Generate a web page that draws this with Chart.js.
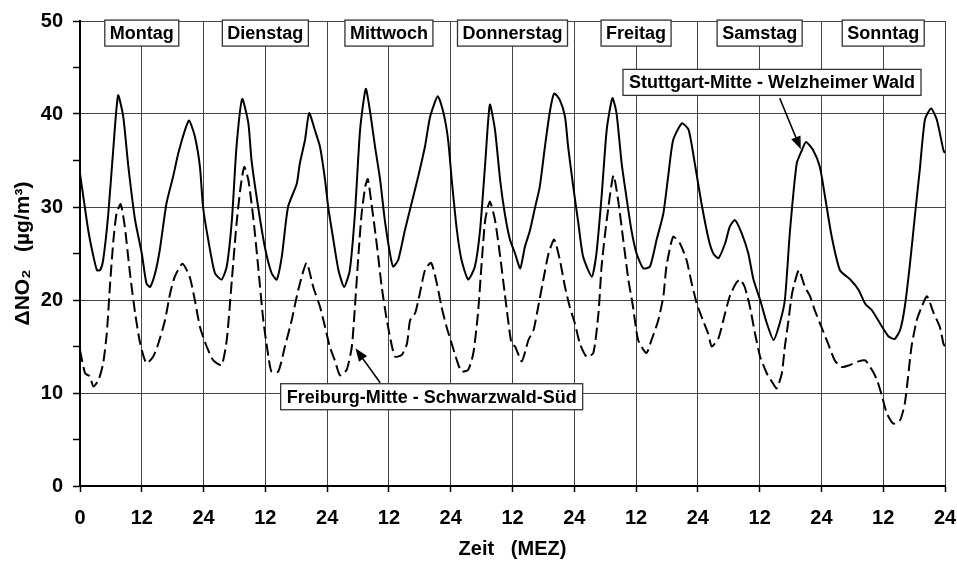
<!DOCTYPE html>
<html>
<head>
<meta charset="utf-8">
<script src="https://cdn.jsdelivr.net/npm/chart.js@4.4.1/dist/chart.umd.min.js"></script>
<style>
  html, body { margin: 0; padding: 0; background: #fff; }
  canvas { display: block; }
</style>
</head>
<body>
<canvas id="chart" width="957" height="561"></canvas>
<script>
// hours since Monday 0:00 MEZ, NO2 differences in µg/m³
const stuttgartTime = [0, 1.6, 2.6, 3.3, 3.9, 4.5, 5.5, 6.5, 7.4, 8.4, 9.4, 10.7, 12.0, 12.9, 13.6, 14.6, 15.5, 16.8, 18.1, 19.1, 20.4, 21.2, 22.3, 23.3, 23.9,
    24.9, 26.2, 27.5, 28.5, 29.5, 30.4, 31.5, 32.7, 33.3, 34.6, 35.9, 37.2, 38.2, 39.2, 40.4, 42.1, 42.7, 43.7, 44.5, 45.6, 46.6, 47.6,
    48.2, 49.2, 50.2, 51.3, 52.4, 53.4, 54.4, 55.5, 56.3, 57.3, 58.3, 59.2, 60.2, 60.8, 61.8, 63.1, 64.4, 65.7, 67.0, 68.0, 69.5, 70.6, 71.5,
    72.2, 73.2, 74.1, 75.4, 76.7, 77.7, 78.7, 79.6, 80.6, 81.6, 82.5, 83.5, 84.5, 85.5, 86.4, 87.4, 88.4, 89.3, 90.3, 91.3, 92.1, 93.2, 94.2, 94.8, 95.8,
    96.8, 97.7, 99.4, 100.3, 101.3, 102.3, 103.4, 104.2, 105.2, 106.2, 107.1, 108.1, 109.4, 110.7, 112.0, 113.3, 114.3, 115.2, 116.9, 118.2, 119.4,
    120.7, 122.1, 123.0, 124.0, 125.3, 126.2, 127.2, 128.5, 129.8, 130.8, 132.1, 133.4, 134.7, 135.9, 136.9, 137.9, 139.2, 140.2, 141.0, 142.4, 143.7,
    144.7, 146.0, 147.6, 149.6, 151.2, 152.5, 153.8, 155.8, 157.0, 158.2, 159.3, 160.2, 161.2, 162.2, 163.1, 164.1, 165.3, 166.4, 167.7, 168];
const stuttgartNO2 = [33.6, 27.5, 24.7, 23.2, 23.2, 24.3, 29.3, 36.5, 42.0, 39.7, 34.3, 28.6, 25.0, 21.8, 21.4, 22.9, 25.4, 30.4, 33.3, 35.8, 38.3, 39.3, 37.6, 34.3, 30.0,
    26.5, 22.9, 22.2, 23.6, 28.6, 36.5, 41.6, 39.0, 35.1, 30.0, 25.7, 22.9, 22.2, 24.7, 30.0, 32.5, 34.7, 37.2, 40.1, 38.3, 36.5, 32.9,
    30.0, 26.5, 23.2, 21.4, 23.2, 29.3, 38.3, 42.7, 40.4, 36.5, 32.9, 28.6, 25.0, 23.6, 24.3, 27.5, 30.4, 33.3, 36.5, 39.7, 41.9, 40.1, 37.2,
    32.9, 27.5, 24.3, 22.2, 23.6, 27.5, 34.7, 41.0, 38.3, 32.9, 29.3, 26.5, 25.0, 23.4, 25.7, 27.5, 30.0, 32.2, 36.5, 40.4, 42.2, 41.5, 39.7, 36.5, 32.2,
    28.2, 24.7, 22.5, 25.0, 31.1, 38.3, 41.7, 40.1, 34.7, 30.8, 27.5, 25.0, 23.4, 23.6, 26.5, 29.3, 33.6, 37.2, 39.0, 38.3, 34.7,
    30.4, 26.5, 25.0, 24.5, 26.1, 27.9, 28.6, 27.2, 25.0, 22.2, 20.0, 17.5, 15.7, 17.5, 20.0, 27.5, 34.7, 36.1, 37.0, 36.1, 34.3,
    31.1, 26.8, 23.2, 22.2, 21.1, 19.6, 18.9, 17.1, 16.1, 15.8, 16.8, 19.3, 23.9, 29.3, 34.0, 39.4, 40.6, 39.4, 36.1, 35.8];

const freiburgTime = [0, 1.0, 1.9, 2.6, 3.6, 4.5, 5.2, 5.8, 6.5, 7.1, 7.9, 8.7, 9.7, 10.7, 11.7, 12.9, 14.2, 15.2, 16.5, 17.5, 18.4, 19.9, 21.3, 22.3, 23.3,
    24.6, 25.9, 27.5, 28.5, 29.5, 30.4, 31.2, 31.9, 32.7, 33.7, 34.6, 35.6, 36.6, 37.2, 38.5, 39.8, 41.1, 42.4, 44.0, 45.3, 46.6, 47.6,
    48.5, 49.5, 50.5, 51.8, 52.8, 53.4, 54.1, 54.7, 55.4, 55.9, 56.7, 57.7, 58.6, 59.6, 60.6, 61.2, 62.5, 63.5, 64.1, 65.1, 66.0, 67.0, 68.2, 69.3, 70.2, 71.2,
    72.2, 73.2, 74.1, 75.4, 76.4, 77.3, 78.0, 78.7, 79.6, 80.6, 81.6, 82.5, 83.8, 84.5, 85.8, 87.1, 88.1, 89.0, 90.0, 91.0, 92.1, 93.2, 94.2, 95.1,
    96.1, 97.1, 98.4, 99.7, 100.7, 101.3, 102.3, 103.6, 104.5, 105.5, 106.5, 107.4, 108.4, 110.0, 111.0, 112.3, 113.3, 113.9, 115.2, 116.5, 117.8, 118.8, 119.8,
    121.0, 122.0, 122.7, 124.0, 125.3, 126.2, 127.4, 128.2, 129.1, 130.1, 131.1, 132.1, 133.4, 134.4, 135.3, 136.3, 136.9, 137.6, 138.3, 139.6, 140.8, 141.8, 142.7,
    144.0, 145.3, 146.6, 147.9, 149.5, 151.2, 152.5, 153.8, 154.8, 155.8, 156.7, 158.0, 159.3, 160.2, 160.9, 161.5, 162.5, 163.5, 164.5, 165.8, 167.0, 167.7, 168];
const freiburgNO2 = [14.6, 12.1, 11.8, 10.7, 11.4, 13.2, 16.4, 21.4, 26.5, 29.3, 30.3, 27.9, 22.9, 18.6, 15.3, 13.2, 13.9, 15.3, 17.8, 20.7, 22.5, 23.9, 22.5, 20.0, 17.1,
    15.0, 13.5, 13.0, 15.7, 22.2, 28.2, 32.2, 34.3, 32.9, 28.6, 23.6, 17.8, 13.9, 12.3, 12.3, 15.0, 17.8, 21.1, 24.0, 21.4, 19.3, 17.1,
    15.0, 13.5, 11.9, 12.5, 15.0, 19.3, 25.0, 29.3, 32.2, 33.0, 30.0, 25.7, 21.4, 17.8, 15.0, 13.9, 14.1, 15.3, 17.8, 18.6, 20.7, 23.2, 24.0, 21.8, 19.3, 17.1,
    15.3, 13.5, 12.3, 12.5, 14.3, 18.6, 23.9, 28.6, 30.6, 28.6, 24.7, 20.7, 15.3, 15.0, 13.4, 15.7, 16.8, 19.3, 22.2, 25.0, 26.5, 24.3, 21.4, 19.3,
    17.5, 15.3, 13.9, 14.3, 18.6, 23.6, 28.6, 33.4, 30.8, 26.5, 22.2, 19.3, 15.7, 14.3, 15.7, 17.8, 20.4, 23.6, 26.8, 26.1, 24.3, 21.8, 19.6,
    17.8, 16.4, 15.0, 15.9, 18.6, 20.4, 21.8, 22.2, 21.4, 19.3, 16.4, 13.9, 12.1, 11.2, 10.5, 12.1, 15.0, 17.8, 20.7, 23.2, 21.4, 20.4, 18.9,
    17.1, 15.3, 13.5, 12.8, 13.0, 13.4, 13.5, 12.5, 11.4, 9.6, 7.8, 6.7, 7.1, 8.9, 12.1, 15.0, 17.8, 19.3, 20.4, 18.6, 17.1, 15.3, 15.0];

const xTickLabels = ['0', '12', '24', '12', '24', '12', '24', '12', '24', '12', '24', '12', '24', '12', '24'];
const days = ['Montag', 'Dienstag', 'Mittwoch', 'Donnerstag', 'Freitag', 'Samstag', 'Sonntag'];

const FONT = "'Liberation Sans', Arial, sans-serif";

// callout boxes, placed in data coordinates
const callouts = [
    { text: 'Stuttgart-Mitte - Welzheimer Wald', x: 134.4, y: 43.4, from: [135.9, 41.7], to: [140.0, 36.2] },
    { text: 'Freiburg-Mitte - Schwarzwald-Süd', x: 68.3, y: 9.6, from: [58.3, 11.1], to: [53.5, 14.8] }
];

function toPoints(t, v) {
    return t.map((x, i) => ({ x: x, y: v[i] }));
}

function labelBox(ctx, text, cx, cy, pad) {
    ctx.font = 'bold 18px ' + FONT;
    const w = ctx.measureText(text).width + pad * 2;
    const h = 26;
    ctx.fillStyle = '#fff';
    ctx.fillRect(cx - w / 2, cy - h / 2, w, h);
    ctx.strokeStyle = '#333';
    ctx.lineWidth = 1.3;
    ctx.strokeRect(cx - w / 2, cy - h / 2, w, h);
    ctx.fillStyle = '#000';
    ctx.textAlign = 'center';
    ctx.textBaseline = 'middle';
    ctx.fillText(text, cx, cy + 1);
}

const labelsPlugin = {
    id: 'labels',
    afterDatasetsDraw(chart) {
        const ctx = chart.ctx;
        const xs = chart.scales.x, ys = chart.scales.y;
        ctx.save();
        days.forEach((d, i) => {
            labelBox(ctx, d, xs.getPixelForValue(12 + 24 * i), ys.getPixelForValue(48.7), 5);
        });
        callouts.forEach(c => {
            const x1 = xs.getPixelForValue(c.from[0]), y1 = ys.getPixelForValue(c.from[1]);
            const x2 = xs.getPixelForValue(c.to[0]), y2 = ys.getPixelForValue(c.to[1]);
            const a = Math.atan2(y2 - y1, x2 - x1);
            ctx.strokeStyle = '#000';
            ctx.lineWidth = 1.6;
            ctx.beginPath();
            ctx.moveTo(x1, y1);
            ctx.lineTo(x2 - 8 * Math.cos(a), y2 - 8 * Math.sin(a));
            ctx.stroke();
            ctx.fillStyle = '#000';
            ctx.beginPath();
            ctx.moveTo(x2, y2);
            ctx.lineTo(x2 - 13 * Math.cos(a) + 5 * Math.sin(a), y2 - 13 * Math.sin(a) - 5 * Math.cos(a));
            ctx.lineTo(x2 - 13 * Math.cos(a) - 5 * Math.sin(a), y2 - 13 * Math.sin(a) + 5 * Math.cos(a));
            ctx.closePath();
            ctx.fill();
            labelBox(ctx, c.text, xs.getPixelForValue(c.x), ys.getPixelForValue(c.y), 6);
        });
        ctx.restore();
    }
};

new Chart(document.getElementById('chart'), {
    type: 'line',
    data: {
        datasets: [
            {
                label: 'Stuttgart-Mitte - Welzheimer Wald',
                data: toPoints(stuttgartTime, stuttgartNO2),
                borderColor: '#000',
                borderWidth: 2,
                pointRadius: 0,
                tension: 0.2,
                fill: false
            },
            {
                label: 'Freiburg-Mitte - Schwarzwald-Süd',
                data: toPoints(freiburgTime, freiburgNO2),
                borderColor: '#000',
                borderWidth: 2,
                borderDash: [12, 5],
                pointRadius: 0,
                tension: 0.2,
                fill: false
            }
        ]
    },
    options: {
        responsive: false,
        animation: false,
        devicePixelRatio: 1,
        layout: { padding: { top: 21, right: 12, left: 0, bottom: 0 } },
        plugins: {
            legend: { display: false },
            tooltip: { enabled: false }
        },
        scales: {
            x: {
                type: 'linear',
                min: 0,
                max: 168,
                afterFit: s => { s.height = 75; s.paddingRight = 0; s.paddingLeft = 0; },
                ticks: {
                    stepSize: 12,
                    autoSkip: false,
                    maxRotation: 0,
                    padding: 14,
                    color: '#000',
                    font: { family: FONT, size: 20, weight: 'bold' },
                    callback: v => xTickLabels[Math.round(v / 12)]
                },
                grid: { color: '#444', lineWidth: 1, tickLength: 6, tickColor: '#000', tickWidth: 1.5 },
                border: { display: true, color: '#000', width: 2 },
                title: {
                    display: true,
                    text: 'Zeit   (MEZ)',
                    color: '#000',
                    font: { family: FONT, size: 20, weight: 'bold' },
                    padding: { top: 0, bottom: 0 }
                }
            },
            y: {
                min: 0,
                max: 50,
                afterFit: s => { s.width = 80; s.paddingTop = 0; s.paddingBottom = 0; },
                ticks: {
                    stepSize: 5,
                    padding: 10,
                    color: '#000',
                    font: { family: FONT, size: 20, weight: 'bold' },
                    callback: v => (v % 10 === 0 ? v : '')
                },
                grid: {
                    color: c => (c.tick && c.tick.value % 10 === 0 ? '#444' : 'rgba(0,0,0,0)'),
                    lineWidth: 1,
                    tickLength: 7,
                    tickColor: '#000',
                    tickWidth: 1.5
                },
                border: { display: true, color: '#000', width: 2 },
                title: {
                    display: true,
                    text: 'ΔNO₂   (µg/m³)',
                    color: '#000',
                    font: { family: FONT, size: 21, weight: 'bold' },
                    padding: { top: 11, bottom: 0 }
                }
            }
        }
    },
    plugins: [labelsPlugin]
});
</script>
</body>
</html>
